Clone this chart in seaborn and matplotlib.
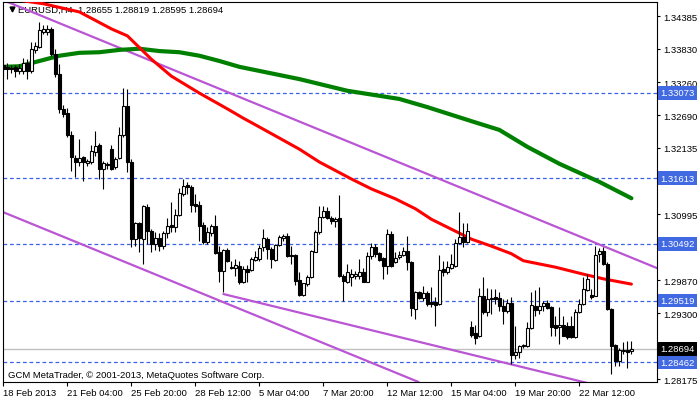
import numpy as np
import pandas as pd
import matplotlib
matplotlib.use('Agg')
import matplotlib.pyplot as plt
import matplotlib.transforms as mtransforms
import seaborn as sns

# H4 bars of EURUSD (open / high / low / close)
opens = [
    1.3355, 1.3352, 1.3350, 1.3352, 1.3345, 1.3345, 1.3359, 1.3345, 1.3381, 1.3386,
    1.3412, 1.3412, 1.3417, 1.3374, 1.3340, 1.3280, 1.3273, 1.3235, 1.3196, 1.3189,
    1.3198, 1.3187, 1.3189, 1.3206, 1.3218, 1.3177, 1.3184, 1.3211, 1.3180, 1.3196,
    1.3235, 1.3285, 1.3189, 1.3057, 1.3085, 1.3057, 1.3112, 1.3071, 1.3049, 1.3059,
    1.3045, 1.3068, 1.3081, 1.3078, 1.3098, 1.3134, 1.3150, 1.3146, 1.3117, 1.3115,
    1.3081, 1.3052, 1.3068, 1.3080, 1.3035, 1.3002, 1.3038, 1.3009, 1.3008, 1.3011,
    1.2984, 1.3006, 1.3004, 1.3021, 1.3023, 1.3044, 1.3057, 1.3040, 1.3021, 1.3047,
    1.3059, 1.3062, 1.3030, 1.3030, 1.2987, 1.2961, 1.2980, 1.2992, 1.3035, 1.3069,
    1.3095, 1.3105, 1.3093, 1.3088, 1.3093, 1.2994, 1.2984, 1.2992, 1.2994, 1.2994,
    1.3001, 1.2984, 1.3028, 1.3044, 1.3033, 1.3025, 1.3011, 1.3066, 1.3018, 1.3026,
    1.3030, 1.3037, 1.3018, 1.2937, 1.2966, 1.2956, 1.2965, 1.2949, 1.2949, 1.2946,
    1.3006, 1.3001, 1.3008, 1.3011, 1.3050, 1.3061, 1.3052, 1.2907, 1.2896, 1.2891,
    1.2960, 1.2932, 1.2955, 1.2958, 1.2956, 1.2942, 1.2934, 1.2948, 1.2859, 1.2864,
    1.2874, 1.2874, 1.2905, 1.2942, 1.2936, 1.2942, 1.2948, 1.2941, 1.2910, 1.2907,
    1.2910, 1.2908, 1.2908, 1.2889, 1.2932, 1.2946, 1.2970, 1.2961, 1.2960, 1.3032,
    1.3037, 1.3014, 1.2937, 1.2875, 1.2848, 1.2865, 1.2868, 1.28655,
]
highs = [
    1.3362, 1.3359, 1.3355, 1.3355, 1.3357, 1.3367, 1.3365, 1.3394, 1.3394, 1.3429,
    1.3424, 1.3424, 1.3420, 1.3383, 1.3357, 1.3287, 1.3281, 1.3242, 1.3201, 1.3228,
    1.3199, 1.3194, 1.3218, 1.3242, 1.3222, 1.3191, 1.3189, 1.3218, 1.3198, 1.3249,
    1.3316, 1.3314, 1.3194, 1.3086, 1.3086, 1.3115, 1.3117, 1.3074, 1.3069, 1.3068,
    1.3071, 1.3093, 1.3121, 1.3109, 1.3145, 1.3160, 1.3155, 1.3150, 1.3134, 1.3122,
    1.3086, 1.3078, 1.3083, 1.3098, 1.3045, 1.3040, 1.3042, 1.3020, 1.3023, 1.3020,
    1.3011, 1.3013, 1.3026, 1.3037, 1.3047, 1.3074, 1.3061, 1.3044, 1.3049, 1.3064,
    1.3066, 1.3068, 1.3045, 1.3032, 1.3001, 1.2982, 1.2996, 1.3038, 1.3073, 1.3114,
    1.3114, 1.3112, 1.3097, 1.3095, 1.3133, 1.2997, 1.3014, 1.3006, 1.3002, 1.3023,
    1.3008, 1.3035, 1.3050, 1.3049, 1.3035, 1.3026, 1.3074, 1.3071, 1.3035, 1.3037,
    1.3044, 1.3062, 1.3020, 1.2968, 1.2968, 1.2977, 1.2968, 1.2975, 1.2958, 1.3030,
    1.3020, 1.3020, 1.3032, 1.3057, 1.3103, 1.3085, 1.3085, 1.2917, 1.2910, 1.2973,
    1.2992, 1.2973, 1.2972, 1.2972, 1.2966, 1.2955, 1.2955, 1.2958, 1.2908, 1.2875,
    1.2877, 1.2915, 1.2966, 1.2970, 1.2975, 1.2951, 1.2953, 1.2942, 1.2925, 1.2941,
    1.2925, 1.2915, 1.2925, 1.2937, 1.2955, 1.2992, 1.2997, 1.2972, 1.3045, 1.3042,
    1.3044, 1.3018, 1.2939, 1.2877, 1.2870, 1.2881, 1.2882, 1.28819,
]
lows = [
    1.3335, 1.3331, 1.3341, 1.3335, 1.3340, 1.3340, 1.3331, 1.3341, 1.3376, 1.3384,
    1.3408, 1.3406, 1.3371, 1.3335, 1.3273, 1.3266, 1.3232, 1.3174, 1.3163, 1.3182,
    1.3157, 1.3182, 1.3186, 1.3199, 1.3160, 1.3143, 1.3177, 1.3175, 1.3177, 1.3194,
    1.3232, 1.3172, 1.3044, 1.3045, 1.3035, 1.3014, 1.3049, 1.3035, 1.3038, 1.3037,
    1.3040, 1.3059, 1.3069, 1.3069, 1.3097, 1.3131, 1.3134, 1.3103, 1.3103, 1.3054,
    1.3049, 1.3049, 1.3062, 1.3032, 1.2984, 1.2966, 1.3018, 1.3006, 1.2994, 1.2980,
    1.2982, 1.2984, 1.3002, 1.3020, 1.3020, 1.3037, 1.3023, 1.3008, 1.3020, 1.3045,
    1.3054, 1.3026, 1.3014, 1.2978, 1.2960, 1.2960, 1.2977, 1.2991, 1.3035, 1.3066,
    1.3093, 1.3091, 1.3083, 1.3078, 1.2992, 1.2951, 1.2982, 1.2977, 1.2989, 1.2989,
    1.2984, 1.2984, 1.3023, 1.3026, 1.3020, 1.2989, 1.2997, 1.3009, 1.3016, 1.3023,
    1.3028, 1.3004, 1.2925, 1.2920, 1.2955, 1.2951, 1.2942, 1.2941, 1.2908, 1.2944,
    1.2994, 1.2997, 1.3006, 1.3009, 1.3049, 1.3044, 1.3050, 1.2889, 1.2877, 1.2889,
    1.2928, 1.2925, 1.2928, 1.2946, 1.2934, 1.2912, 1.2930, 1.2843, 1.2852, 1.2854,
    1.2870, 1.2872, 1.2903, 1.2925, 1.2928, 1.2934, 1.2937, 1.2891, 1.2891, 1.2877,
    1.2891, 1.2886, 1.2888, 1.2888, 1.2930, 1.2944, 1.2968, 1.2955, 1.2960, 1.3018,
    1.3013, 1.2936, 1.2826, 1.2840, 1.2840, 1.2860, 1.2836, 1.28595,
]
closes = [
    1.3348, 1.3348, 1.3348, 1.3345, 1.3350, 1.3359, 1.3345, 1.3383, 1.3388, 1.3415,
    1.3417, 1.3417, 1.3374, 1.3340, 1.3280, 1.3271, 1.3235, 1.3198, 1.3189, 1.3196,
    1.3189, 1.3191, 1.3208, 1.3216, 1.3177, 1.3187, 1.3186, 1.3177, 1.3194, 1.3235,
    1.3285, 1.3189, 1.3057, 1.3085, 1.3059, 1.3114, 1.3071, 1.3049, 1.3059, 1.3045,
    1.3068, 1.3080, 1.3078, 1.3098, 1.3136, 1.3148, 1.3146, 1.3115, 1.3114, 1.3080,
    1.3052, 1.3069, 1.3080, 1.3033, 1.3002, 1.3038, 1.3020, 1.3008, 1.3013, 1.2984,
    1.3006, 1.3001, 1.3023, 1.3026, 1.3042, 1.3059, 1.3040, 1.3023, 1.3047, 1.3061,
    1.3062, 1.3028, 1.3028, 1.2985, 1.2961, 1.2982, 1.2992, 1.3037, 1.3069, 1.3095,
    1.3105, 1.3093, 1.3088, 1.3091, 1.2994, 1.2985, 1.3001, 1.2997, 1.2997, 1.3001,
    1.2984, 1.3028, 1.3044, 1.3032, 1.3021, 1.3011, 1.3066, 1.3011, 1.3025, 1.3030,
    1.3037, 1.3018, 1.2939, 1.2966, 1.2956, 1.2965, 1.2946, 1.2946, 1.2944, 1.3004,
    1.3001, 1.3009, 1.3014, 1.3050, 1.3061, 1.3052, 1.3071, 1.2893, 1.2888, 1.2960,
    1.2932, 1.2955, 1.2956, 1.2955, 1.2942, 1.2934, 1.2948, 1.2859, 1.2864, 1.2874,
    1.2875, 1.2905, 1.2944, 1.2936, 1.2942, 1.2948, 1.2939, 1.2907, 1.2905, 1.2910,
    1.2891, 1.2889, 1.2889, 1.2932, 1.2946, 1.2972, 1.2989, 1.2958, 1.3030, 1.3037,
    1.3014, 1.2937, 1.2874, 1.2848, 1.2867, 1.2868, 1.2864, 1.28694,
]

# moving averages, read as (bar, price) points
red_ma_bar = [0, 4, 10, 19, 27, 31, 37, 42, 49, 56, 60, 64, 74, 79, 87, 92, 98,
              103, 107, 112, 117, 122, 127, 130, 138, 145, 150, 157]
red_ma_price = [1.3482, 1.3466, 1.3460, 1.3446, 1.3417, 1.3405, 1.3365, 1.3336,
                1.3307, 1.3280, 1.3264, 1.3249, 1.3211, 1.3189, 1.3160, 1.3143,
                1.3126, 1.3109, 1.3091, 1.3074, 1.3057, 1.3045, 1.3032, 1.3020,
                1.3009, 1.2997, 1.2989, 1.2980]
green_ma_bar = [0, 4, 9, 14, 19, 24, 29, 34, 39, 44, 49, 54, 59, 74, 86, 99, 106,
                117, 124, 131, 139, 149, 157]
green_ma_price = [1.3352, 1.3353, 1.3362, 1.3371, 1.3376, 1.3377, 1.3381, 1.3383,
                  1.3379, 1.3377, 1.3371, 1.3362, 1.3352, 1.3331, 1.3311, 1.3297,
                  1.3283, 1.3259, 1.3244, 1.3215, 1.3186, 1.3155, 1.3127]

# trend lines: two anchor points each (bar, price)
channel_top = [(0, 1.3466), (150, 1.3045)]
channel_bottom = [(0, 1.3103), (100, 1.2823)]
support_bar = [55, 150]
support_price = [1.2963, 1.2804]

levels = [1.33073, 1.31613, 1.30492, 1.29519, 1.28462]
bid = 1.28694

price_ticks = [1.34385, 1.33830, 1.33260, 1.32690, 1.32135, 1.31565,
               1.30995, 1.30440, 1.29870, 1.29300, 1.28730, 1.28175]
# these grid prices sit under the level boxes, so only their tick is shown
hidden_ticks = [1.31565, 1.30440, 1.28730]
date_labels = ['18 Feb 2013', '21 Feb 04:00', '25 Feb 20:00', '28 Feb 12:00',
               '5 Mar 04:00', '7 Mar 20:00', '12 Mar 12:00', '15 Mar 04:00',
               '19 Mar 20:00', '22 Mar 12:00']

title = 'EURUSD,H4  1.28655 1.28819 1.28595 1.28694'
footer = 'GCM MetaTrader, \u00a9 2001-2013, MetaQuotes Software Corp.'

sns.set_style('white')
plt.rcParams['font.family'] = ['Liberation Sans', 'DejaVu Sans']
FS = 6.8

fig = plt.figure(figsize=(7.0, 4.02), dpi=100)
ax = fig.add_axes([3 / 700, 19 / 402, 654 / 700, 380 / 402])

df = pd.DataFrame({'open': opens, 'high': highs, 'low': lows, 'close': closes})
df['bar'] = np.arange(len(df))
df['bottom'] = df[['open', 'close']].min(axis=1)
df['body'] = (df['close'] - df['open']).abs()
df['face'] = np.where(df['close'] >= df['open'], 'white', 'black')

# horizontal levels
for lvl in levels:
    ax.axhline(lvl, color='#3C64E6', lw=0.9, ls=(0, (3, 2.2)), zorder=1)
ax.axhline(bid, color='#C0C0C0', lw=1.0, zorder=1)

# trend lines
purple = '#BA55D3'
ax.axline(channel_top[0], channel_top[1], color=purple, lw=1.6, zorder=2)
ax.axline(channel_bottom[0], channel_bottom[1], color=purple, lw=1.6, zorder=2)
ax.plot(support_bar, support_price, color=purple, lw=1.6, zorder=2)

# moving averages
sns.lineplot(x=green_ma_bar, y=green_ma_price, color='#008000', lw=3.0, ax=ax,
             zorder=3, legend=False)
sns.lineplot(x=red_ma_bar, y=red_ma_price, color='#FF0000', lw=2.2, ax=ax,
             zorder=3, legend=False)

# candles
ax.vlines(df['bar'], df['low'], df['high'], color='black', lw=0.8, zorder=4)
ax.bar(df['bar'], df['body'], bottom=df['bottom'], width=0.6,
       color=df['face'], edgecolor='black', linewidth=0.8, zorder=5)

ax.set_xlim(-0.1, 163.4)
ax.set_ylim(1.28124, 1.34630)
ax.set_xlabel('')
ax.set_ylabel('')

ax.yaxis.tick_right()
ax.set_yticks(price_ticks)
ax.set_yticklabels(['' if v in hidden_ticks else f'{v:.5f}' for v in price_ticks])
ax.tick_params(axis='y', right=True, left=False, labelright=True, labelleft=False,
               direction='out', length=2.5, width=0.8, pad=2, labelsize=FS,
               colors='black')
ax.set_xticks(np.arange(0, 16 * len(date_labels), 16))
ax.set_xticklabels(date_labels, ha='left')
ax.tick_params(axis='x', bottom=True, direction='out', length=3, width=0.8,
               pad=1.5, labelsize=FS, colors='black')
for s in ax.spines.values():
    s.set_color('black')
    s.set_linewidth(0.8)

# price boxes on the right axis
trans = mtransforms.blended_transform_factory(ax.transAxes, ax.transData)
for lvl in levels:
    ax.text(1.0055, lvl, f'{lvl:.5f}', transform=trans, ha='left', va='center',
            fontsize=FS, color='white', clip_on=False, zorder=7,
            bbox=dict(boxstyle='square,pad=0.25', fc='#4169E1', ec='none'))
ax.text(1.0055, bid, f'{bid:.5f}', transform=trans, ha='left', va='center',
        fontsize=FS, color='white', clip_on=False, zorder=7,
        bbox=dict(boxstyle='square,pad=0.25', fc='black', ec='none'))

# header and footer texts
ax.plot([0.0145], [0.981], marker='v', ms=3.5, color='black',
        transform=ax.transAxes, clip_on=False, zorder=2)
ax.text(0.023, 0.981, title, transform=ax.transAxes, ha='left', va='center',
        fontsize=FS, color='black', zorder=1.5)
ax.text(0.0076, 0.021, footer, transform=ax.transAxes, ha='left', va='center',
        fontsize=FS, color='black', zorder=6)

fig.savefig('out.png', dpi=100)
